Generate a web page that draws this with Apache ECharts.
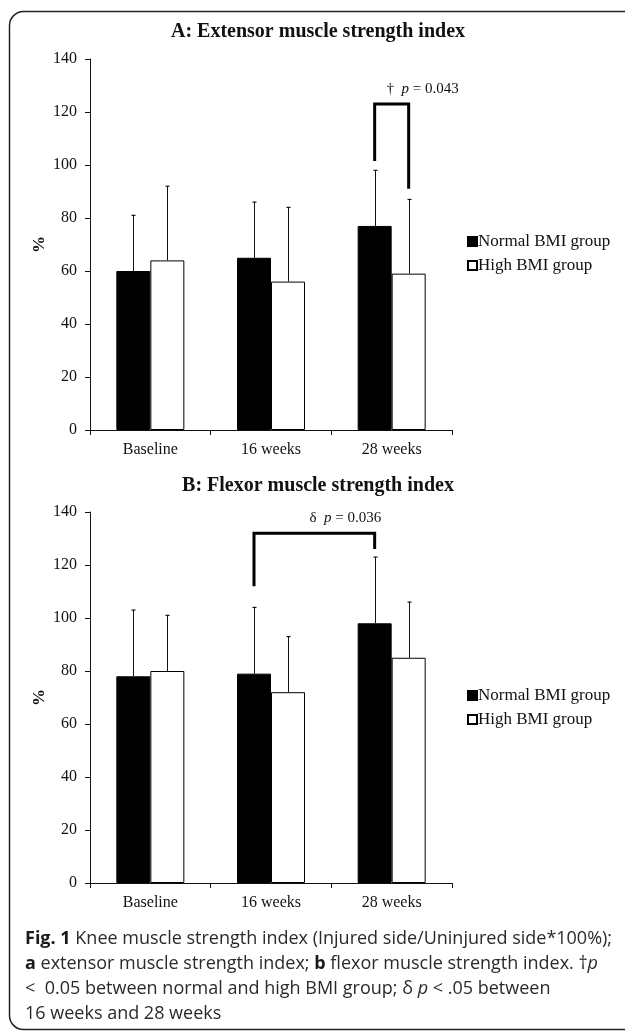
<!DOCTYPE html>
<html><head><meta charset="utf-8">
<script src="https://cdn.jsdelivr.net/npm/echarts@6/dist/echarts.min.js"></script>
<style>html,body{margin:0;padding:0;background:#fff}#c{width:625px;height:1031px}</style>
</head><body><div id="c"></div>
<script>
// ---- data ----
const categories = ['Baseline', '16 weeks', '28 weeks'];
const yTickValues = [0, 20, 40, 60, 80, 100, 120, 140];
const extNormal = [60, 65, 77];
const extNormalSD = [21, 21, 21];
const extHigh = [64, 56, 59];
const extHighSD = [28, 28, 28];
const flexNormal = [78, 79, 98];
const flexNormalSD = [25, 25, 25];
const flexHigh = [80, 72, 85];
const flexHighSD = [21, 21, 21];
// significance brackets: [category, group] of both ends, bracket top value, end values
const extBracket = [[2, 0], [2, 1], 123, 101.5, 91];
const extBracketLabel = ['†', 'p', '= 0.043'];
const flexBracket = [[1, 0], [2, 0], 132, 112, 126];
const flexBracketLabel = ['δ', 'p', '= 0.036'];
const seriesNames = ['Normal BMI group', 'High BMI group'];

// ---- styling ----
const SERIF = "'Liberation Serif', 'Times New Roman', serif";
const SANS = "'Open Sans', sans-serif";
const INK = '#111';
const BAR_W = 34;

function errData(means, sds, g) {
  return means.map((m, i) => [i, m, sds[i], g]);
}
function errRender(params, api) {
  const c = api.value(0), m = api.value(1), sd = api.value(2), g = api.value(3);
  const p0 = api.coord([c, m]);
  const p1 = api.coord([c, m + sd]);
  const x = Math.round(p0[0] + (g === 0 ? -BAR_W / 2 : BAR_W / 2)) + 0.5;
  return {
    type: 'group', children: [
      { type: 'line', shape: { x1: x, y1: p0[1], x2: x, y2: p1[1] }, style: { stroke: INK, lineWidth: 1 } },
      { type: 'line', shape: { x1: x - 2, y1: p1[1], x2: x + 2, y2: p1[1] }, style: { stroke: INK, lineWidth: 1.2 } }
    ]
  };
}
function bracketSeries(b, label, axisIdx) {
  return {
    type: 'custom', xAxisIndex: axisIdx, yAxisIndex: axisIdx, silent: true, z: 5,
    data: [[b[0][0], b[0][1], b[1][0], b[1][1], b[2], b[3], b[4]]],
    renderItem: function (params, api) {
      const xa = api.coord([api.value(0), 0])[0] + (api.value(1) === 0 ? -BAR_W / 2 : BAR_W / 2);
      const xb = api.coord([api.value(2), 0])[0] + (api.value(3) === 0 ? -BAR_W / 2 : BAR_W / 2);
      const yt = api.coord([0, api.value(4)])[1];
      const ya = api.coord([0, api.value(5)])[1];
      const yb = api.coord([0, api.value(6)])[1];
      return {
        type: 'group', children: [
          { type: 'polyline', shape: { points: [[xa, ya], [xa, yt], [xb, yt], [xb, yb]] },
            style: { stroke: '#000', lineWidth: 3, fill: null, lineJoin: 'miter' } },
          { type: 'text', x: (xa + xb) / 2 + 31, y: yt - 15,
            style: {
              text: '{s|' + label[0] + '}  {i|' + label[1] + '} ' + label[2],
              align: 'center', verticalAlign: 'middle',
              font: '15px ' + SERIF, fill: INK,
              rich: { s: { fontSize: 15, fontFamily: SERIF, fill: INK },
                      i: { fontSize: 15, fontFamily: SERIF, fontStyle: 'italic', fill: INK } }
            } }
        ]
      };
    }
  };
}

function xAxis(gi) {
  return {
    type: 'category', gridIndex: gi, data: categories,
    axisLine: { lineStyle: { color: INK, width: 1 } },
    axisTick: { show: true, length: 5, lineStyle: { color: INK } },
    axisLabel: { fontSize: 16, fontFamily: SERIF, color: INK, margin: 12 }
  };
}
function yAxis(gi) {
  return {
    type: 'value', gridIndex: gi, min: yTickValues[0], max: yTickValues[yTickValues.length - 1],
    interval: yTickValues[1] - yTickValues[0],
    name: '%', nameLocation: 'middle', nameGap: 42, nameRotate: 90, nameMoveOverlap: false,
    nameTextStyle: { fontSize: 17, fontFamily: SERIF, fontWeight: 'bold', color: INK },
    axisLine: { show: true, lineStyle: { color: INK, width: 1 } },
    axisTick: { show: true, length: 5, lineStyle: { color: INK } },
    splitLine: { show: false },
    axisLabel: { fontSize: 16, fontFamily: SERIF, color: INK, margin: 13 }
  };
}
function legend(top) {
  return {
    orient: 'vertical', left: 467, top: top, itemWidth: 9, itemHeight: 9, itemGap: 7,
    data: seriesNames.map(n => ({ name: n, icon: 'rect' })), padding: 0,
    textStyle: { fontSize: 17, fontFamily: SERIF, color: INK, padding: [0, 0, 0, -4] },
    selectedMode: false
  };
}
function barStyle(g) {
  return g === 0 ? { color: '#000', borderColor: '#000', borderWidth: 1 }
                 : { color: '#fff', borderColor: '#000', borderWidth: 1 };
}

const chart = echarts.init(document.getElementById('c'), null, { renderer: 'canvas' });
chart.setOption({
  animation: false,
  backgroundColor: '#fff',
  title: [
    { text: 'A: Extensor muscle strength index', left: 318, top: 22, textAlign: 'center', padding: 0,
      textStyle: { fontSize: 20, fontFamily: SERIF, fontWeight: 'bold', color: INK } },
    { text: 'B: Flexor muscle strength index', left: 318, top: 476, textAlign: 'center', padding: 0,
      textStyle: { fontSize: 20, fontFamily: SERIF, fontWeight: 'bold', color: INK } }
  ],
  legend: [legend(233), legend(687)],
  grid: [
    { left: 90, right: 173, top: 59, bottom: 601 },
    { left: 90, right: 173, top: 512, bottom: 148 }
  ],
  xAxis: [xAxis(0), xAxis(1)],
  yAxis: [yAxis(0), yAxis(1)],
  series: [
    { name: seriesNames[0], type: 'bar', xAxisIndex: 0, yAxisIndex: 0, data: extNormal, barWidth: BAR_W, barGap: '0%', itemStyle: barStyle(0) },
    { name: seriesNames[1], type: 'bar', xAxisIndex: 0, yAxisIndex: 0, data: extHigh, barWidth: BAR_W, barGap: '0%', itemStyle: barStyle(1) },
    { name: seriesNames[0], type: 'bar', xAxisIndex: 1, yAxisIndex: 1, data: flexNormal, barWidth: BAR_W, barGap: '0%', itemStyle: barStyle(0) },
    { name: seriesNames[1], type: 'bar', xAxisIndex: 1, yAxisIndex: 1, data: flexHigh, barWidth: BAR_W, barGap: '0%', itemStyle: barStyle(1) },
    { type: 'custom', xAxisIndex: 0, yAxisIndex: 0, z: 4, silent: true, renderItem: errRender,
      data: errData(extNormal, extNormalSD, 0).concat(errData(extHigh, extHighSD, 1)) },
    { type: 'custom', xAxisIndex: 1, yAxisIndex: 1, z: 4, silent: true, renderItem: errRender,
      data: errData(flexNormal, flexNormalSD, 0).concat(errData(flexHigh, flexHighSD, 1)) },
    bracketSeries(extBracket, extBracketLabel, 0),
    bracketSeries(flexBracket, flexBracketLabel, 1)
  ],
  graphic: [
    { type: 'rect', shape: { x: 9.5, y: 11.5, width: 700, height: 1018, r: 14 }, z: -1,
      style: { fill: null, stroke: '#222', lineWidth: 1.5 } },
    { type: 'text', left: 25, top: 926, z: 10,
      style: {
        text: '{b|Fig. 1} Knee muscle strength index (Injured side/Uninjured side*100%);\n' +
              '{b|a} extensor muscle strength index; {b|b} flexor muscle strength index. †{i|p}\n' +
              '<  0.05 between normal and high BMI group; δ {i|p} < .05 between\n' +
              '16 weeks and 28 weeks',
        font: '18px ' + SANS, fill: '#2a2a2a', lineHeight: 25,
        rich: {
          b: { fontWeight: 'bold', fontSize: 18, fontFamily: SANS, fill: '#1a1a1a', lineHeight: 25 },
          i: { fontStyle: 'italic', fontSize: 18, fontFamily: SANS, fill: '#2a2a2a', lineHeight: 25 }
        }
      } }
  ]
});
</script>
</body></html>
